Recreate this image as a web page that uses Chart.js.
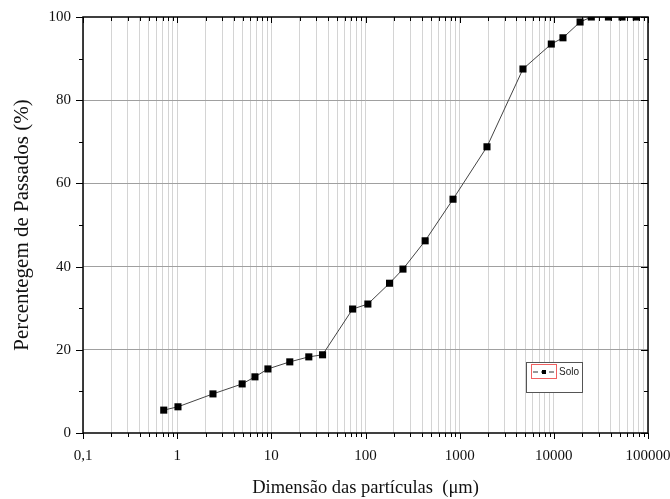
<!DOCTYPE html>
<html>
<head>
<meta charset="utf-8">
<script src="https://cdn.jsdelivr.net/npm/chart.js@4.4.0/dist/chart.umd.min.js"></script>
<style>
  html, body { margin: 0; padding: 0; background: #fff; }
  #wrap { width: 670px; height: 499px; }
</style>
</head>
<body>
<div id="wrap"><canvas id="myChart" width="670" height="499"></canvas></div>
<script>
// particle size (um) and % passing
const sizes = [0.72, 1.02, 2.4, 4.9, 6.7, 9.2, 15.7, 25, 35, 73, 106, 180, 250, 430, 850, 1950, 4700, 9400, 12500, 19000, 25000, 38000, 53000, 75000];
const passing = [5.5, 6.3, 9.4, 11.8, 13.5, 15.4, 17.1, 18.3, 18.8, 29.8, 31, 36, 39.4, 46.2, 56.2, 68.8, 87.5, 93.5, 95, 98.8, 100, 100, 100, 100];

const decades = [0.1, 1, 10, 100, 1000, 10000, 100000];
const xTickLabels = ['0,1', '1', '10', '100', '1000', '10000', '100000'];
const yTickLabels = ['0', '20', '40', '60', '80', '100'];

const seriesName = 'Solo';

// 1..9 per decade
function logTicks() {
  const out = [];
  for (let i = 0; i < decades.length - 1; i++) {
    for (let k = 1; k < 10; k++) out.push({ value: +(decades[i] * k).toPrecision(3) });
  }
  out.push({ value: decades[decades.length - 1] });
  return out;
}

const framePlugin = {
  id: 'frame',
  afterDraw(chart) {
    const { ctx, chartArea: a, scales } = chart;
    const x = scales.x, y = scales.y;
    ctx.save();
    ctx.strokeStyle = '#000';
    ctx.lineWidth = 1.5;
    ctx.strokeRect(a.left, a.top, a.right - a.left, a.bottom - a.top);
    ctx.lineWidth = 1;
    ctx.beginPath();
    x.ticks.forEach(t => {
      const px = Math.round(x.getPixelForValue(t.value)) + 0.5;
      const major = decades.includes(t.value);
      const len = major ? 6 : 4;
      ctx.moveTo(px, a.bottom); ctx.lineTo(px, a.bottom + len);
      ctx.moveTo(px, a.top); ctx.lineTo(px, a.top + len);
    });
    for (let v = 0; v <= 100; v += 10) {
      const py = Math.round(y.getPixelForValue(v)) + 0.5;
      const len = v % 20 === 0 ? 7 : 4;
      ctx.moveTo(a.left - len, py); ctx.lineTo(a.left, py);
      ctx.moveTo(a.right - len, py); ctx.lineTo(a.right, py);
    }
    ctx.stroke();

    // legend box
    const lx = 526, ly = 362;
    ctx.fillStyle = '#fff';
    ctx.fillRect(lx, ly, 56, 30);
    ctx.strokeStyle = '#555';
    ctx.strokeRect(lx + 0.5, ly + 0.5, 56, 30);
    ctx.strokeStyle = '#f06060';
    ctx.strokeRect(lx + 5.5, ly + 2.5, 25, 14);
    ctx.strokeStyle = '#333';
    ctx.setLineDash([5, 3]);
    ctx.beginPath();
    ctx.moveTo(lx + 7, ly + 10); ctx.lineTo(lx + 29, ly + 10);
    ctx.stroke();
    ctx.setLineDash([]);
    ctx.fillStyle = '#000';
    ctx.fillRect(lx + 16, ly + 8, 4, 4);
    ctx.fillStyle = '#222';
    ctx.font = '10px "Liberation Sans", Arial, sans-serif';
    ctx.textBaseline = 'middle';
    ctx.fillText(seriesName, lx + 33, ly + 10);
    ctx.restore();
  }
};

const ctx = document.getElementById('myChart').getContext('2d');
new Chart(ctx, {
  type: 'scatter',
  data: {
    datasets: [{
      label: seriesName,
      data: sizes.map((s, i) => ({ x: s, y: passing[i] })),
      showLine: true,
      borderColor: '#444',
      borderWidth: 1,
      backgroundColor: '#000',
      pointBackgroundColor: '#000',
      pointBorderWidth: 0,
      pointStyle: 'rect',
      pointRadius: 5,
      tension: 0
    }]
  },
  options: {
    responsive: false,
    animation: false,
    layout: { padding: { top: 17, right: 22, left: 0, bottom: 0 } },
    plugins: { legend: { display: false }, tooltip: { enabled: false } },
    scales: {
      x: {
        type: 'logarithmic',
        min: 0.1,
        max: 100000,
        afterBuildTicks: s => { s.ticks = logTicks(); },
        afterFit: s => { s.height = 66; s.paddingLeft = 0; s.paddingRight = 0; },
        border: { display: false },
        grid: { color: '#d4d4d4', lineWidth: 1, drawTicks: false },
        ticks: {
          autoSkip: false,
          maxRotation: 0,
          padding: 14,
          color: '#111',
          font: { family: '"Liberation Serif", "Times New Roman", serif', size: 15 },
          callback: v => {
            const i = decades.indexOf(v);
            return i >= 0 ? xTickLabels[i] : '';
          }
        },
        title: {
          display: true,
          text: 'Dimensão das partículas  (μm)',
          color: '#111',
          font: { family: '"Liberation Serif", "Times New Roman", serif', size: 18.5 },
          padding: { top: 4, bottom: 0 }
        }
      },
      y: {
        min: 0,
        max: 100,
        afterFit: s => { s.width = 83; s.paddingTop = 0; s.paddingBottom = 0; },
        border: { display: false },
        grid: {
          drawTicks: false,
          color: c => (c.tick.value % 20 === 0 && c.tick.value > 0 && c.tick.value < 100) ? '#a0a0a0' : 'rgba(0,0,0,0)'
        },
        ticks: {
          stepSize: 20,
          padding: 12,
          color: '#111',
          font: { family: '"Liberation Serif", "Times New Roman", serif', size: 15 },
          callback: v => yTickLabels[yTickLabels.indexOf(String(v))] || ''
        },
        title: {
          display: true,
          text: 'Percentegem de Passados (%)',
          color: '#111',
          font: { family: '"Liberation Serif", "Times New Roman", serif', size: 21 },
          padding: { top: 10, bottom: 0 }
        }
      }
    }
  },
  plugins: [framePlugin]
});
</script>
</body>
</html>
